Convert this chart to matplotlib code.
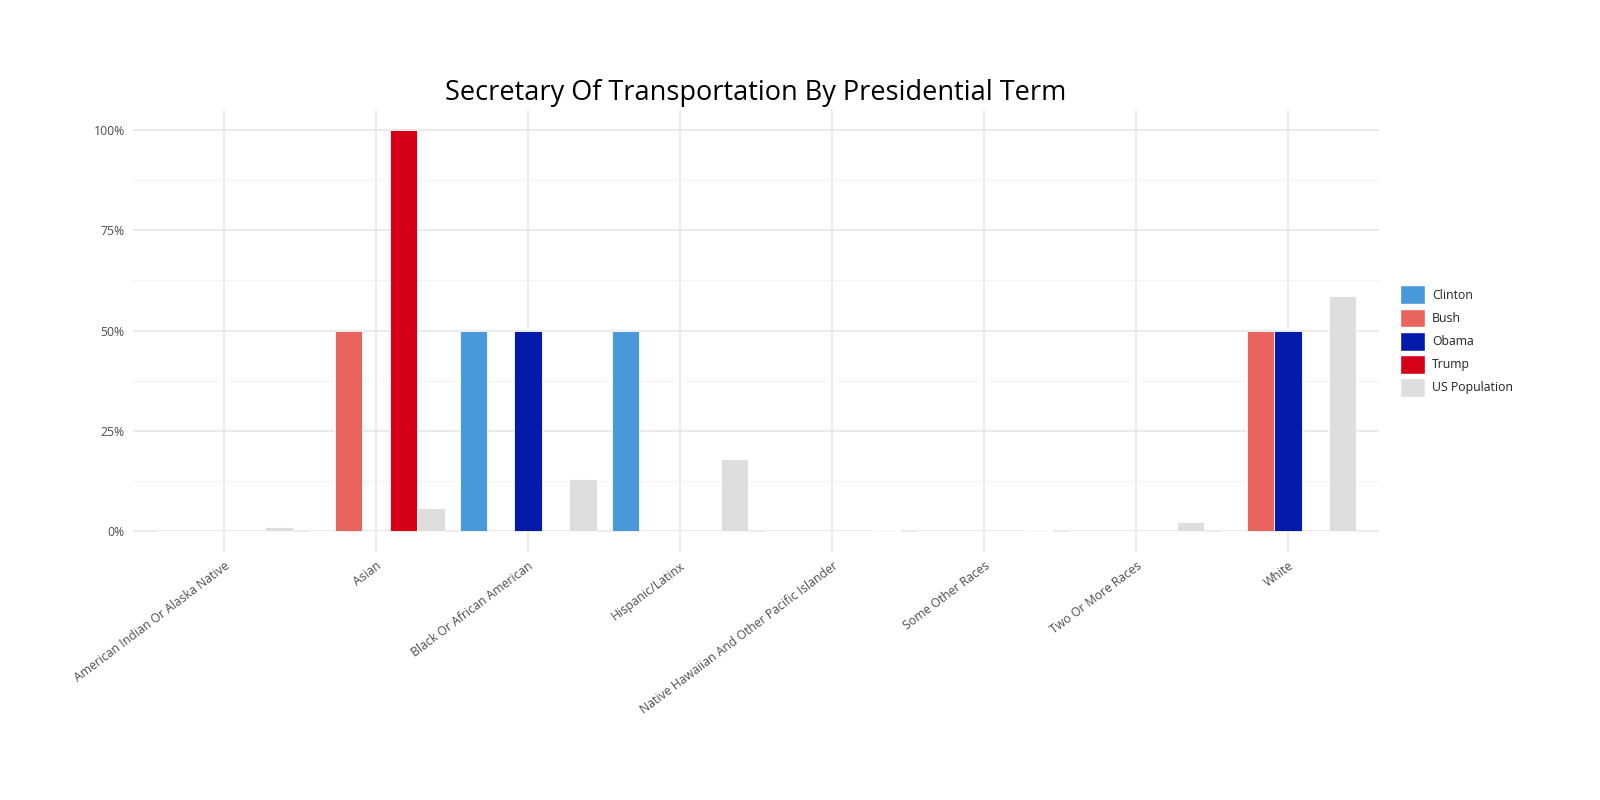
import numpy as np
import matplotlib
matplotlib.use("Agg")
import matplotlib.pyplot as plt
from matplotlib.patches import Patch
from matplotlib.ticker import MultipleLocator, PercentFormatter

plt.rcParams['font.family'] = ['Open Sans', 'DejaVu Sans']

categories = ["American Indian Or Alaska Native", "Asian", "Black Or African American",
              "Hispanic/Latinx", "Native Hawaiian And Other Pacific Islander",
              "Some Other Races", "Two Or More Races", "White"]
series = ["Clinton", "Bush", "Obama", "Trump", "US Population"]
colors = ["#4899D9", "#E8645C", "#041AAB", "#D60019", "#DEDEDE"]

clinton = [0, 0, 0.50, 0.50, 0, 0, 0, 0]
bush = [0, 0.50, 0, 0, 0, 0, 0, 0.50]
obama = [0, 0, 0.50, 0, 0, 0, 0, 0.50]
trump = [0, 1.00, 0, 0, 0, 0, 0, 0]
us_pop = [0.010, 0.057, 0.129, 0.180, 0.002, 0.002, 0.024, 0.587]
values = [clinton, bush, obama, trump, us_pop]

fig = plt.figure(figsize=(16, 8), dpi=100)
ax = fig.add_axes([0.0831, 0.311, 0.7789, 0.5515])

x = np.arange(1, len(categories) + 1)
w = 0.9 / len(series)
for j, (name, vals) in enumerate(zip(series, values)):
    ax.bar(x + (j - 2) * w, vals, width=w, color=colors[j], edgecolor='white',
           linewidth=0.6, zorder=3, label=name)

ax.set_xlim(0.4, len(categories) + 0.6)
ax.set_ylim(-0.05, 1.05)
ax.set_axisbelow(True)

ax.yaxis.set_major_locator(MultipleLocator(0.25))
ax.yaxis.set_minor_locator(MultipleLocator(0.125))
ax.yaxis.set_major_formatter(PercentFormatter(1.0, decimals=0))
ax.set_xticks(x)
ax.set_xticklabels(categories, rotation=37, ha='right', rotation_mode='anchor')

ax.grid(which='major', axis='both', color='#EBEBEB', linewidth=1.4, zorder=0)
ax.grid(which='minor', axis='y', color='#F3F3F3', linewidth=0.8, zorder=0)
for s in ax.spines.values():
    s.set_visible(False)
ax.tick_params(which='both', length=0, colors='#4D4D4D', labelsize=8.8)
ax.tick_params(axis='y', pad=6)
ax.tick_params(axis='x', pad=6)

ax.set_title("Secretary Of Transportation By Presidential Term", fontsize=19.5,
             color='black', pad=7)

handles = [Patch(facecolor=c, edgecolor='white', label=n) for n, c in zip(series, colors)]
leg = ax.legend(handles=handles, loc='center left', bbox_to_anchor=(1.008, 0.476),
                frameon=False, fontsize=8.8, handlelength=2.0, handleheight=2.0,
                labelspacing=0.35, handletextpad=0.6)
for t in leg.get_texts():
    t.set_color('#222222')

fig.savefig("out.png", dpi=100)
